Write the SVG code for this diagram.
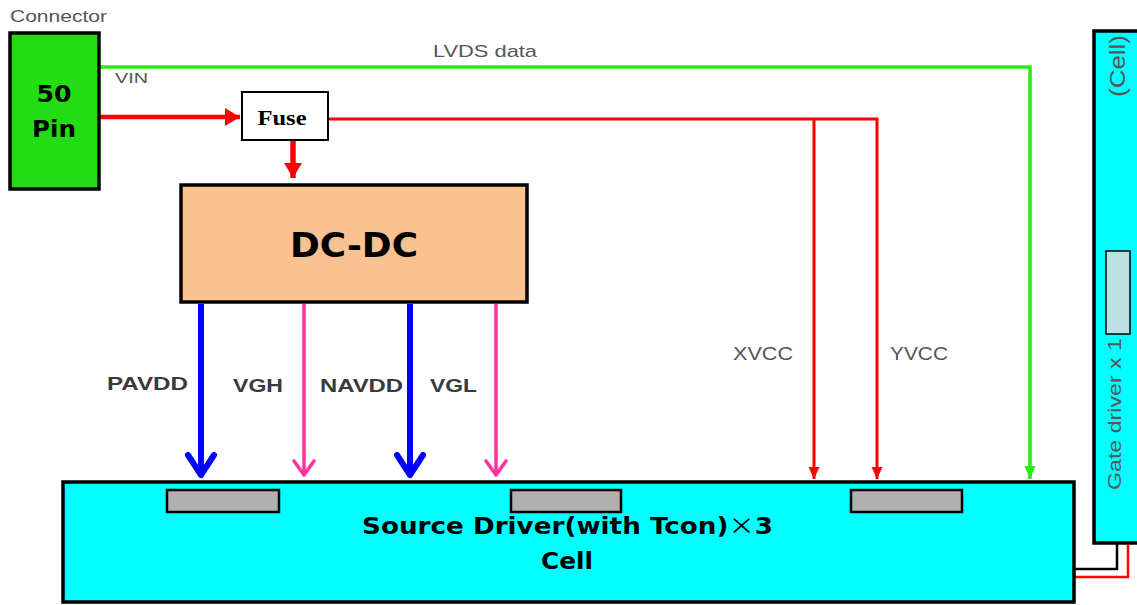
<svg xmlns="http://www.w3.org/2000/svg" width="1137" height="605" viewBox="0 0 1137 605">
<style>
.box{stroke:#000;stroke-width:3.5}
.lbl{font-family:"Liberation Sans",Arial,sans-serif;fill:#555}
.sig{font-family:"Liberation Sans",Arial,sans-serif;font-weight:bold;font-size:19px;fill:#3a3a3a}
.big{font-family:"DejaVu Sans","Noto Sans CJK SC",sans-serif;font-weight:bold;fill:#000}
.red{stroke:#ff0000;fill:none}
</style>
<defs>
<marker id="triR" markerUnits="userSpaceOnUse" viewBox="-14 -8 16 16" refX="0" refY="0" markerWidth="16" markerHeight="16" orient="auto" overflow="visible">
<path d="M-12,-5.5 L0,0 L-12,5.5 Z" fill="#ff0000"/>
</marker>
<marker id="triRBig" markerUnits="userSpaceOnUse" viewBox="-16 -10 18 20" refX="0" refY="0" markerWidth="18" markerHeight="20" orient="auto" overflow="visible">
<path d="M-15,-9 L0,0 L-15,9 Z" fill="#ff0000"/>
</marker>
<marker id="triG" markerUnits="userSpaceOnUse" viewBox="-14 -8 16 16" refX="0" refY="0" markerWidth="16" markerHeight="16" orient="auto" overflow="visible">
<path d="M-13,-5.5 L0,0 L-13,5.5 Z" fill="#22ee11"/>
</marker>
<marker id="chevB" markerUnits="userSpaceOnUse" viewBox="-26 -18 30 36" refX="0" refY="0" markerWidth="30" markerHeight="36" orient="auto" overflow="visible">
<path d="M-21,-13 L-1,0 L-21,13" fill="none" stroke="#0000ff" stroke-width="6" stroke-linecap="round" stroke-linejoin="round"/>
</marker>
<marker id="chevP" markerUnits="userSpaceOnUse" viewBox="-20 -14 24 28" refX="0" refY="0" markerWidth="24" markerHeight="28" orient="auto" overflow="visible">
<path d="M-15,-10 L-1,0 L-15,10" fill="none" stroke="#ff3399" stroke-width="3.5" stroke-linecap="round" stroke-linejoin="round"/>
</marker>
</defs>
<rect width="1137" height="605" fill="#ffffff"/>

<g id="connectors">
<path d="M100,67 H1030 V479" fill="none" stroke="#22ee11" stroke-width="3.5" marker-end="url(#triG)"/>
<path d="M100,117 H240" class="red" stroke-width="4.5" marker-end="url(#triRBig)"/>
<path d="M293,141 V178" class="red" stroke-width="5.5" marker-end="url(#triRBig)"/>
<path d="M328,119 H877 V479" class="red" stroke-width="3" marker-end="url(#triR)"/>
<path d="M814,119 V479" class="red" stroke-width="3" marker-end="url(#triR)"/>
<path d="M201,304 V476" fill="none" stroke="#0000ff" stroke-width="6" marker-end="url(#chevB)"/>
<path d="M304,304 V476" fill="none" stroke="#ff3399" stroke-width="3.5" marker-end="url(#chevP)"/>
<path d="M410,304 V476" fill="none" stroke="#0000ff" stroke-width="6" marker-end="url(#chevB)"/>
<path d="M496,304 V476" fill="none" stroke="#ff3399" stroke-width="3.5" marker-end="url(#chevP)"/>
<path d="M1117,508 V569 H1075" fill="none" stroke="#000" stroke-width="2.5"/>
<path d="M1128,508 V577 H1075" fill="none" stroke="#ff0000" stroke-width="2.5"/>
<text class="lbl" x="433" y="57" font-size="17" textLength="104" lengthAdjust="spacingAndGlyphs">LVDS data</text>
<text class="lbl" x="115" y="83" font-size="15" fill="#666" textLength="33" lengthAdjust="spacingAndGlyphs">VIN</text>
<text class="sig" x="107" y="390" textLength="81" lengthAdjust="spacingAndGlyphs">PAVDD</text>
<text class="sig" x="233" y="392" textLength="50" lengthAdjust="spacingAndGlyphs">VGH</text>
<text class="sig" x="320" y="392" textLength="83" lengthAdjust="spacingAndGlyphs">NAVDD</text>
<text class="sig" x="430" y="392" textLength="47" lengthAdjust="spacingAndGlyphs">VGL</text>
<text class="lbl" x="733" y="360" font-size="18" fill="#333" textLength="60" lengthAdjust="spacingAndGlyphs">XVCC</text>
<text class="lbl" x="890" y="360" font-size="18" textLength="58" lengthAdjust="spacingAndGlyphs">YVCC</text>
</g>

<g id="connector">
<text class="lbl" x="10" y="22" font-size="16" textLength="97" lengthAdjust="spacingAndGlyphs">Connector</text>
<rect class="box" x="10" y="33" width="89" height="156" fill="#22dd11"/>
<text class="big" x="54" y="102" font-size="23" text-anchor="middle" textLength="35" lengthAdjust="spacingAndGlyphs">50</text>
<text class="big" x="54" y="137" font-size="23" text-anchor="middle" textLength="44" lengthAdjust="spacingAndGlyphs">Pin</text>
</g>

<g id="fuse">
<rect x="242" y="92" width="86" height="48" fill="#fff" stroke="#000" stroke-width="2"/>
<text x="282" y="125" font-family="'Liberation Serif','Times New Roman',serif" font-weight="bold" font-size="22" text-anchor="middle" textLength="49" lengthAdjust="spacingAndGlyphs" fill="#000">Fuse</text>
</g>

<g id="dcdc">
<rect class="box" x="181" y="185" width="346" height="117" fill="#f8c291"/>
<text class="big" x="354" y="257" font-size="34" text-anchor="middle" textLength="128" lengthAdjust="spacingAndGlyphs">DC-DC</text>
</g>

<g id="source-driver">
<rect class="box" x="63" y="482" width="1011" height="120" fill="#00ffff"/>
<rect x="167" y="490" width="112" height="22" fill="#b0b0b0" stroke="#000" stroke-width="2.5"/>
<rect x="511" y="490" width="110" height="22" fill="#b0b0b0" stroke="#000" stroke-width="2.5"/>
<rect x="851" y="490" width="111" height="22" fill="#b0b0b0" stroke="#000" stroke-width="2.5"/>
<text class="big" x="362" y="534" font-size="23" textLength="411" lengthAdjust="spacingAndGlyphs">Source Driver(with Tcon)<tspan font-family="'Noto Sans CJK SC',sans-serif" font-weight="normal">×</tspan>3</text>
<text class="big" x="567" y="569" font-size="23" text-anchor="middle" textLength="52" lengthAdjust="spacingAndGlyphs">Cell</text>
</g>

<g id="gate-driver">
<rect class="box" x="1094" y="31" width="60" height="512" fill="#00ffff"/>
<rect x="1106" y="251" width="24" height="83" fill="#bcdfe2" stroke="#000" stroke-width="1.5"/>
<text class="lbl" transform="translate(1125,66) rotate(-90)" font-size="22" fill="#333" text-anchor="middle" textLength="62" lengthAdjust="spacingAndGlyphs">(Cell)</text>
<text class="lbl" transform="translate(1121,414) rotate(-90)" font-size="19" fill="#333" text-anchor="middle" textLength="152" lengthAdjust="spacingAndGlyphs">Gate driver x 1</text>
</g>
</svg>
